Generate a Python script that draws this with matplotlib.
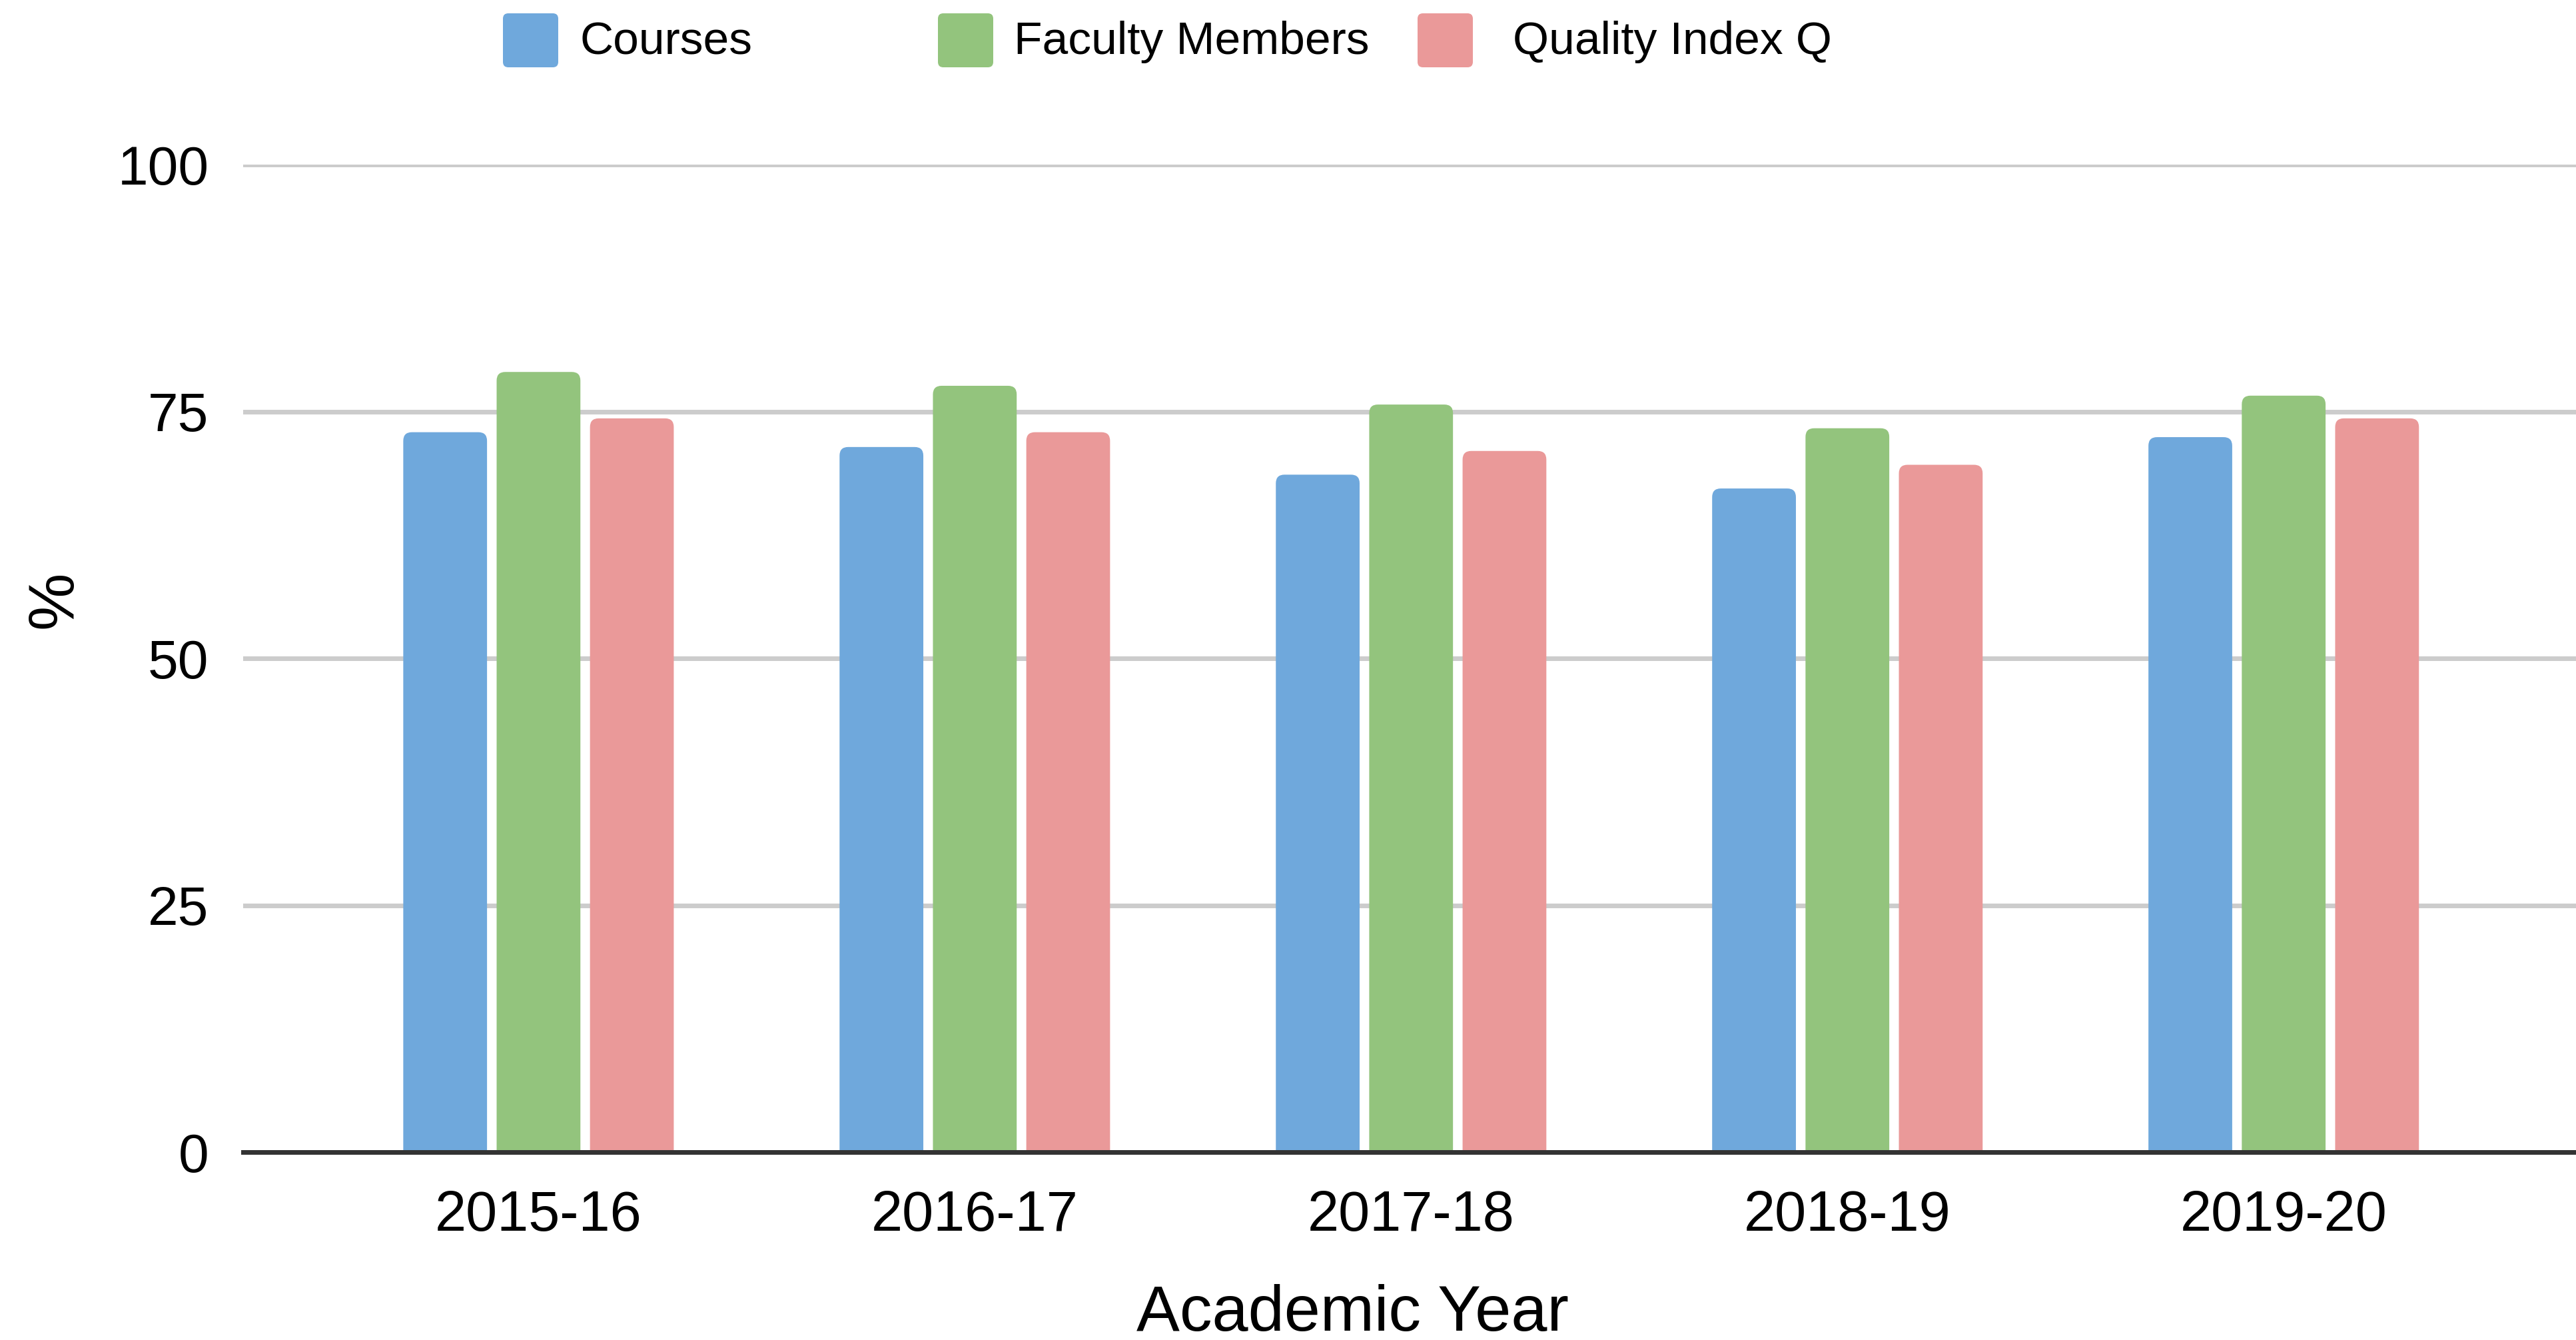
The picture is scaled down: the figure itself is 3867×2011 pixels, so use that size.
import matplotlib
matplotlib.use("Agg")
import matplotlib.pyplot as plt
from matplotlib.patches import FancyBboxPatch
import numpy as np

plt.rcParams['font.family'] = ['Liberation Sans', 'DejaVu Sans']

years = ["2015-16", "2016-17", "2017-18", "2018-19", "2019-20"]
series_names = ["Courses", "Faculty Members", "Quality Index Q"]
courses = [72.9, 71.4, 68.6, 67.2, 72.4]
faculty = [79.0, 77.6, 75.7, 73.3, 76.6]
quality = [74.3, 72.9, 71.0, 69.6, 74.3]
colors = ["#6fa8dc", "#93c47d", "#ea9999"]
yticks = [0, 25, 50, 75, 100]

W, H = 3867, 2011
fig = plt.figure(figsize=(W / 100, H / 100), dpi=100)
ax = fig.add_axes([365 / W, 282 / H, 1 - 365 / W, (1729 - 247) / H])

x = np.arange(len(years))
bw = 0.192
step = 0.214
rx = 0.0198
ry = 0.875
for i, (vals, c) in enumerate(zip([courses, faculty, quality], colors)):
    bars = ax.bar(x + (i - 1) * step, vals, width=bw, color=c, zorder=3)
    for r in bars:
        r.set_visible(False)
        p = FancyBboxPatch((r.get_x(), r.get_y() - 2), r.get_width(), r.get_height() + 2,
                           boxstyle=f"round,pad=0,rounding_size={rx}",
                           mutation_aspect=ry / rx, facecolor=c, edgecolor='none', zorder=3)
        ax.add_patch(p)

ax.set_xlim(-0.677, len(years) - 1 + 0.67)
ax.set_ylim(0, 100)
ax.set_yticks(yticks)
ax.set_yticklabels([str(t) for t in yticks], fontsize=59)
ax.set_xticks(x)
ax.set_xticklabels(years, fontsize=61)
ax.tick_params(axis='both', length=0)
ax.tick_params(axis='y', pad=37)
ax.tick_params(axis='x', pad=40)
ax.yaxis.grid(True, color="#cccccc", linewidth=5, zorder=0)
ax.set_axisbelow(True)
for s in ['top', 'right', 'left']:
    ax.spines[s].set_visible(False)
ax.spines['bottom'].set_color('#333333')
ax.spines['bottom'].set_linewidth(5)
ax.spines['bottom'].set_zorder(5)

fig.text(2030 / W, 1 - 1972 / H, "Academic Year", fontsize=70, ha='center', va='center')
fig.text(82 / W, 1 - 900 / H, "%", fontsize=70, rotation=90, ha='center', va='center')

# legend
mk_x = [755, 1408, 2128]
tx_x = [870, 1522, 2271]
for name, c, mx, tx in zip(series_names, colors, mk_x, tx_x):
    p = FancyBboxPatch((mx / W, 1 - 101 / H), 83 / W, 81 / H,
                       boxstyle=f"round,pad=0,rounding_size={8 / W}",
                       mutation_aspect=W / H, transform=fig.transFigure,
                       facecolor=c, edgecolor='none')
    fig.patches.append(p)
    fig.text(tx / W, 1 - 63 / H, name, fontsize=50, ha='left', va='center')

fig.savefig("out.png", dpi=100, facecolor='white')
